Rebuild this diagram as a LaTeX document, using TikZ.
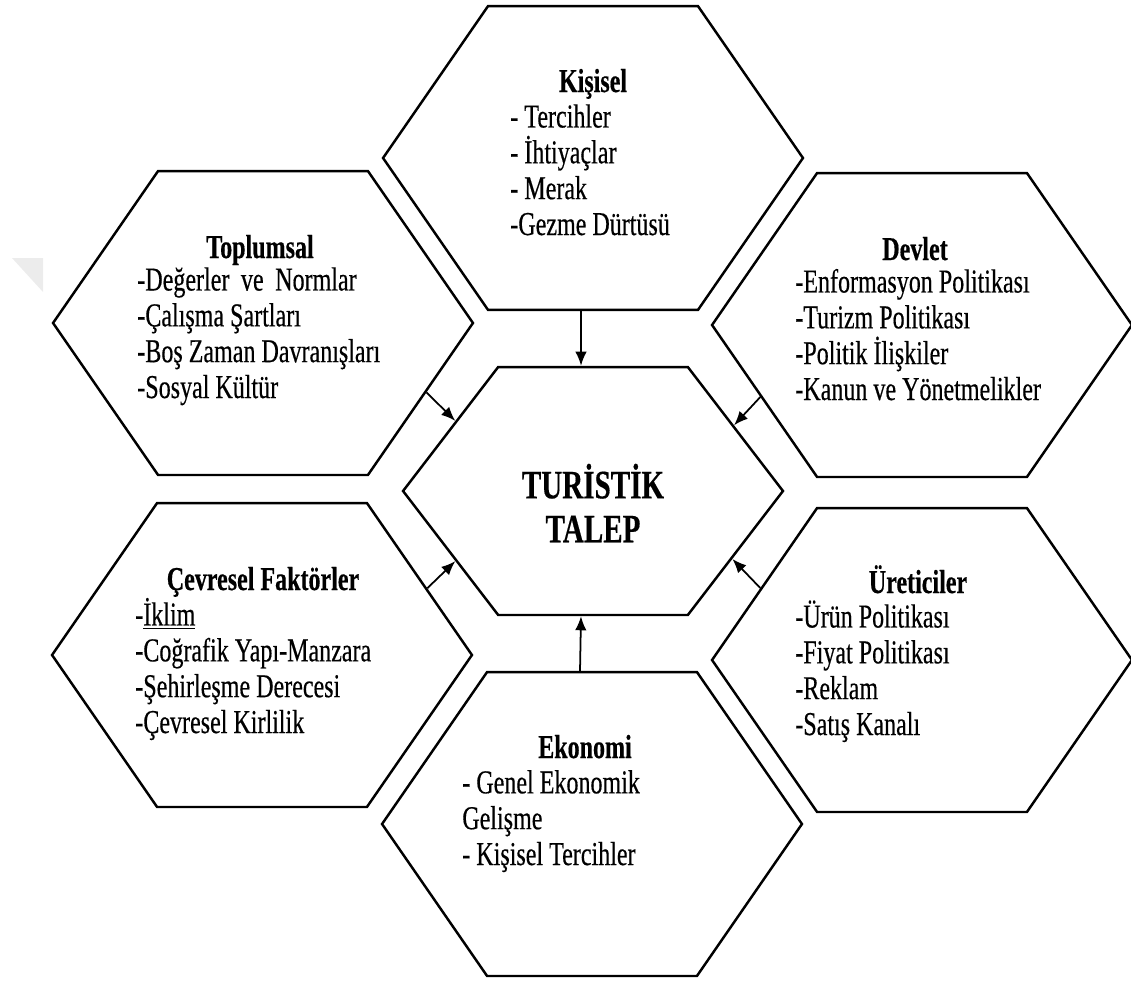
\documentclass[tikz,border=0pt]{standalone}
\usepackage{fontspec}
\setmainfont{Liberation Serif}[FakeStretch=0.72,FakeBold=0.4]
\usetikzlibrary{shapes.symbols,arrows.meta}

\begin{document}
\begin{tikzpicture}[x=0.02cm,y=-0.02cm,
  hexa/.style={draw,line width=1.4pt,shape=signal,signal to=west and east,
    signal pointer angle=110.7,minimum width=8.4cm,minimum height=6.08cm,inner sep=0pt},
  hexmid/.style={hexa,signal pointer angle=105,minimum width=7.6cm,minimum height=4.96cm},
  head/.style={anchor=base,inner sep=0pt,font=\fontsize{19}{20.4}\selectfont\bfseries},
  items/.style={anchor=base west,align=left,inner sep=0pt,font=\fontsize{19}{20.4}\selectfont},
  title/.style={align=center,inner sep=0pt,font=\fontsize{23}{25}\selectfont\bfseries},
  flow/.style={line width=1pt,-{Latex[length=8pt,width=6.5pt]}}]
\useasboundingbox (0,0) rectangle (1131,981);
% watermark corner
\fill[gray!15] (12,258) -- (43,258) -- (43,292) -- cycle;

% hexagons
\node[hexmid] (tur) at (593,491) {};
\node[hexa] (kis) at (593,158) {};
\node[hexa] (top) at (263,323) {};
\node[hexa] (dev) at (922,325) {};
\node[hexa] (cev) at (262,655) {};
\node[hexa] (ure) at (922,660) {};
\node[hexa] (eko) at (592,824) {};

% texts (items anchored on their last line)
\node[title] (turT) at (593,503) {TURİSTİK\\TALEP};

\node[head] (kisH) at (593,92) {Kişisel};
\node[items] (kisL) at (510,235) {- Tercihler\\- İhtiyaçlar\\- Merak\\-Gezme Dürtüsü};

\node[head] (topH) at (260,258) {Toplumsal};
\node[items] (topL) at (137,398) {-Değerler\, ve\, Normlar\\-Çalışma Şartları\\-Boş Zaman Davranışları\\-Sosyal Kültür};

\node[head] (devH) at (915,260) {Devlet};
\node[items] (devL) at (795,400) {-Enformasyon Politikası\\-Turizm Politikası\\-Politik İlişkiler\\-Kanun ve Yönetmelikler};

\node[head] (cevH) at (263,590) {Çevresel Faktörler};
\node[items] (cevL) at (135,733) {-\underline{İklim}\\-Coğrafik Yapı-Manzara\\-Şehirleşme Derecesi\\-Çevresel Kirlilik};

\node[head] (ureH) at (918,593) {Üreticiler};
\node[items] (ureL) at (795,735) {-Ürün Politikası\\-Fiyat Politikası\\-Reklam\\-Satış Kanalı};

\node[head] (ekoH) at (585,758) {Ekonomi};
\node[items] (ekoL) at (462,865) {- Genel Ekonomik\\Gelişme\\- Kişisel Tercihler};

% arrows
\draw[flow] ([xshift=-0.24cm]kis.south) -- ([xshift=-0.24cm]tur.north);
\draw[flow] ([xshift=-0.24cm]eko.north) -- ([xshift=-0.24cm]tur.south);
\draw[flow] (top.-23.4) -- (tur.153.9);
\draw[flow] (dev.-156.6) -- (tur.25.6);
\draw[flow] (cev.22.3) -- (tur.-153.9);
\draw[flow] (ure.156.9) -- (tur.-26.6);
\end{tikzpicture}
\end{document}
